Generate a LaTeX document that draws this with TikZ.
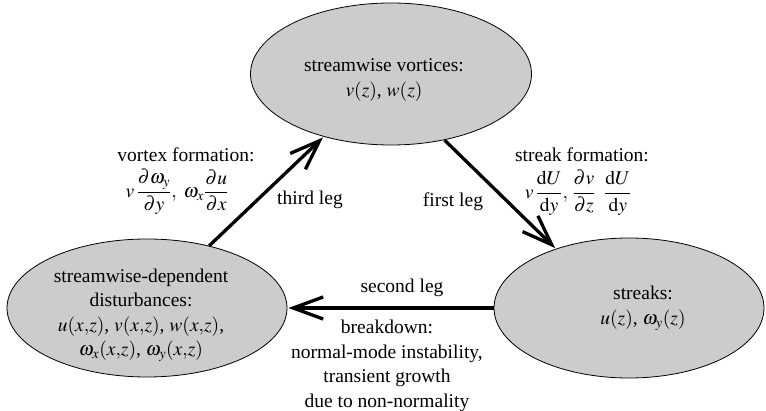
\documentclass[tikz,border=0pt]{standalone}
\usepackage{mathptmx}
\usepackage[no-math]{fontspec}
\setmainfont{Liberation Serif}
\usetikzlibrary{shapes.geometric,arrows.meta}
\tikzset{
  ell/.style={ellipse, draw=black, line width=0.8pt, fill=black!20, inner sep=0pt},
  lbl/.style={inner sep=0pt, align=center},
  leg/.style={line width=3.3pt, -{Straight Barb[length=30pt,width=22pt]}, shorten >=1pt}
}
\begin{document}
\begin{tikzpicture}[x=1pt,y=-1pt,font=\fontsize{19.5}{24.5}\selectfont]
\useasboundingbox (0,0) rectangle (766,411);
% ellipses
\node[ell, minimum width=281pt, minimum height=142pt] (vort) at (391,74) {};
\node[ell, minimum width=280pt, minimum height=138pt] (dist) at (147,308) {};
\node[ell, minimum width=270pt, minimum height=140pt] (strk) at (629,308) {};
% ellipse texts
\node[lbl] (vortT) at (384,80) {streamwise vortices:\\ $v(z)$, $w(z)$};
\node[lbl] (distT) at (141,315) {streamwise-dependent\\ disturbances:\\ $u(x{,}z)$, $v(x{,}z)$, $w(x{,}z)$,\\ $\omega_x(x{,}z)$, $\omega_y(x{,}z)$};
\node[lbl] (strkT) at (643,308) {streaks:\\ $u(z)$, $\omega_y(z)$};
% connectors
\draw[leg] (dist.45) -- (vort.223);
\draw[leg] (vort.309) -- (strk.141);
\draw[leg] (strk.west) -- (dist.east);
% labels
\node[lbl] (vfT) at (186,155) {vortex formation:};
\node[lbl] (vfF) at (177,192) {$\displaystyle v\,\frac{\partial\omega_y}{\partial y},\ \omega_x\frac{\partial u}{\partial x}$};
\node[lbl] (third) at (310,200) {third leg};
\node[lbl] (first) at (453,202) {first leg};
\node[lbl] (sfT) at (582,155) {streak formation:};
\node[lbl] (sfF) at (578,193) {$\displaystyle v\,\frac{\mathrm{d}U}{\mathrm{d}y},\,\frac{\partial v}{\partial z}\;\;\frac{\mathrm{d}U}{\mathrm{d}y}$};
\node[lbl] (second) at (402,288) {second leg};
\node[lbl] (brk) at (387,366) {breakdown:\\ normal-mode instability,\\ transient growth\\ due to non-normality};
\end{tikzpicture}
\end{document}
